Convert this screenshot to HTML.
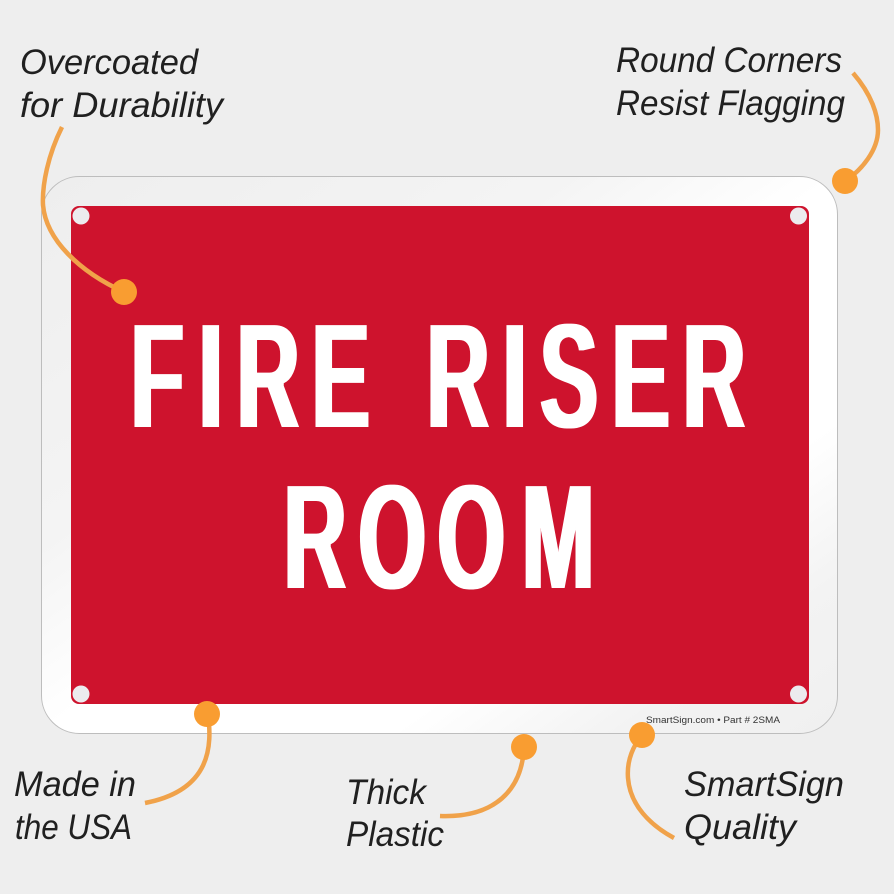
<!DOCTYPE html>
<html>
<head>
<meta charset="utf-8">
<style>
html,body{margin:0;padding:0;background:#eeeeee}
svg{display:block}
.l{font-family:"Liberation Sans",sans-serif;font-style:italic;font-size:35px;fill:#202020}
.b{font-family:"Liberation Sans",sans-serif;font-weight:bold;font-size:151px;fill:#fff}
.c{fill:none;stroke:#f0a24a;stroke-width:4.5;stroke-linecap:butt}
.d{fill:#f99d31}
.h{fill:#ecebee}
</style>
</head>
<body>
<svg width="894" height="894" viewBox="0 0 894 894" xmlns="http://www.w3.org/2000/svg">
<defs>
<linearGradient id="g" x1="0" y1="0" x2="1" y2="1">
<stop offset="0" stop-color="#eeeeee"/>
<stop offset="0.33" stop-color="#f4f4f4"/>
<stop offset="0.5" stop-color="#ffffff"/>
<stop offset="0.72" stop-color="#ffffff"/>
<stop offset="0.86" stop-color="#f3f3f3"/>
<stop offset="1" stop-color="#f0f0f0"/>
</linearGradient>
<filter id="m" filterUnits="userSpaceOnUse" x="0" y="0" width="894" height="894" color-interpolation-filters="sRGB">
<feMorphology operator="dilate" radius="2 0" result="a"/>
<feMorphology in="a" operator="erode" radius="0 1"/>
</filter>
</defs>
<rect width="894" height="894" fill="#eeeeee"/>
<rect x="41.5" y="176.5" width="796" height="557" rx="38" fill="url(#g)" stroke="#bdbdbd" stroke-width="1"/>
<rect x="71" y="206" width="738" height="498" rx="8" fill="#ce132d"/>
<circle class="h" cx="81" cy="216" r="8.5"/>
<circle class="h" cx="798.500" cy="216" r="8.5"/>
<circle class="h" cx="81" cy="694" r="8.5"/>
<circle class="h" cx="798.500" cy="694" r="8.5"/>
<g filter="url(#m)">
<g transform="translate(0,428) scale(0.578,1)"><text class="b" x="226 343.700 409.400 539.200 650 738.100 869.600 934 1058.200 1181" y="0">FIRE RISER</text></g>
<g transform="translate(0,589) scale(0.578,1)"><text class="b" x="490.700 620 756.700 902.800" y="0">ROOM</text></g>
</g>
<text x="646" y="723" font-family="Liberation Sans,sans-serif" font-size="9" fill="#333" textLength="134" lengthAdjust="spacingAndGlyphs">SmartSign.com • Part # 2SMA</text>
<path class="c" d="M62 127 C48 155 42 185 43 205 C46 240 80 272 124 292"/>
<path class="c" d="M853 73 C872 95 878 115 878 130 C878 150 862 170 845 181"/>
<path class="c" d="M208 714 C212 745 212 790 145 803"/>
<path class="c" d="M524 747 C522 790 495 818 440 816"/>
<path class="c" d="M642 735 C630 750 627 765 628 778 C630 805 650 825 674 838"/>
<circle class="d" cx="124" cy="292" r="13"/>
<circle class="d" cx="845" cy="181" r="13"/>
<circle class="d" cx="207" cy="714" r="13"/>
<circle class="d" cx="524" cy="747" r="13"/>
<circle class="d" cx="642" cy="735" r="13"/>
<text class="l" x="20" y="74" textLength="178" lengthAdjust="spacingAndGlyphs">Overcoated</text>
<text class="l" x="20" y="117" textLength="203" lengthAdjust="spacingAndGlyphs">for Durability</text>
<text class="l" x="616" y="72" textLength="226" lengthAdjust="spacingAndGlyphs">Round Corners</text>
<text class="l" x="616" y="115" textLength="229" lengthAdjust="spacingAndGlyphs">Resist Flagging</text>
<text class="l" x="14" y="796" textLength="122" lengthAdjust="spacingAndGlyphs">Made in</text>
<text class="l" x="15" y="839" textLength="117" lengthAdjust="spacingAndGlyphs">the USA</text>
<text class="l" x="346" y="804" textLength="80" lengthAdjust="spacingAndGlyphs">Thick</text>
<text class="l" x="346" y="846" textLength="98" lengthAdjust="spacingAndGlyphs">Plastic</text>
<text class="l" x="684" y="796" textLength="160" lengthAdjust="spacingAndGlyphs">SmartSign</text>
<text class="l" x="684" y="839" textLength="112" lengthAdjust="spacingAndGlyphs">Quality</text>
</svg>
</body>
</html>
